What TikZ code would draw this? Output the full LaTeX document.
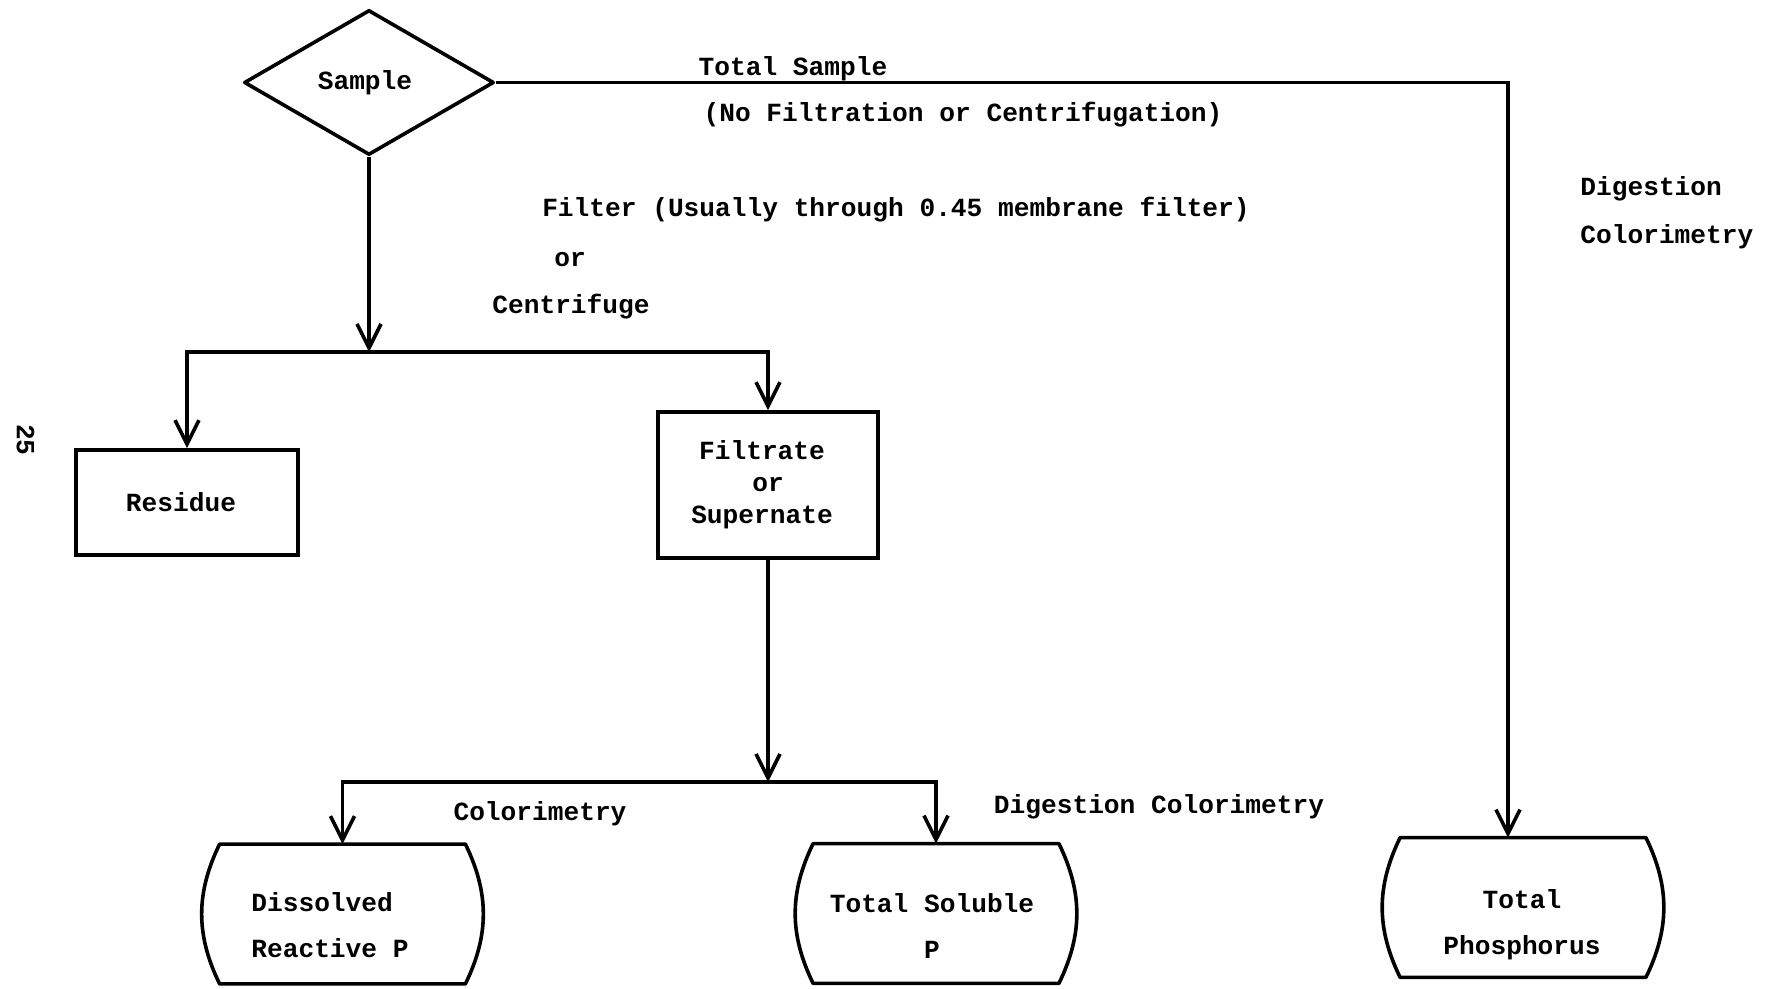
\documentclass[tikz,border=0pt]{standalone}
\usepackage{fontspec}
\setmainfont{Liberation Mono}
\usetikzlibrary{shapes.geometric,arrows.meta}
\begin{document}
\begin{tikzpicture}[x=0.5pt,y=-0.5pt,
  txt/.style={font=\bfseries\fontsize{13.1pt}{16pt}\selectfont, inner sep=0pt},
  lbl/.style={txt, text height=9pt, text depth=2pt},
  twoline/.style={txt, font=\bfseries\fontsize{13.1pt}{23pt}\selectfont},
  ln/.style={line width=1.8pt},
  arr/.style={ln, -{Straight Barb[length=12pt,width=12pt,line width=1.8pt]}},
  boxn/.style={txt, draw, line width=1.8pt, rectangle, align=center},
  barrel/.style={inner sep=0pt, minimum width=122.5pt, minimum height=69.5pt}]
\useasboundingbox (0,0) rectangle (1770,989);

% nodes
\node[txt, draw, line width=1.8pt, line join=round, diamond, minimum width=125pt, minimum height=72.5pt] (samp) at (369,82.5) {Sample\hspace*{4pt}};
\node[boxn, minimum width=111pt, minimum height=52.5pt] (res) at (187,502.5) {Residue\hspace*{6pt}};
\node[boxn, minimum width=110pt, minimum height=73pt] (filt) at (768,485) {Filtrate\hspace*{6pt}\\or\hspace*{6pt}\\Supernate\hspace*{6pt}};

\node[barrel] (dis) at (342.5,914) {};
\node[barrel] (sol) at (936,913.5) {};
\node[barrel] (tp) at (1523,907.5) {};
\node[twoline, align=left] (dist) at (330,925) {Dissolved\\Reactive P};
\node[twoline, align=center] (solt) at (932,926) {Total Soluble\\P};
\node[twoline, align=center] (tpt) at (1522,925) {Total\\Phosphorus};

\foreach \n in {dis,sol,tp}
  \draw[ln, line join=round] (\n.north west) -- (\n.north east) to[bend left=26] (\n.south east) -- (\n.south west) to[bend left=26] (\n.north west) -- cycle;

% labels
\node[lbl] (l1) at (793,69) {Total Sample};
\node[lbl] (l2) at (963,115) {(No Filtration or Centrifugation)};
\node[lbl] (l3) at (896,210) {Filter (Usually through 0.45 membrane filter)};
\node[lbl] (l4) at (570,260) {or};
\node[lbl] (l5) at (571,307) {Centrifuge};
\node[lbl, anchor=west] (l6) at (1580,189) {Digestion};
\node[lbl, anchor=west] (l7) at (1580,237) {Colorimetry};
\node[lbl] (l8) at (540,813) {Colorimetry};
\node[lbl] (l9) at (1159,806) {Digestion Colorimetry};
\node[lbl, rotate=-90] (pg) at (24,440) {25};

% connectors
\coordinate (j1) at (369,352);
\coordinate (j2) at (768,782);
\coordinate (c1) at (1508,82.5);
\draw[arr] (samp.south) -- (j1);
\draw[arr] (j1) -| (res.north);
\draw[arr] (j1) -| (filt.north);
\draw[arr] (filt.south) -- (j2);
\draw[arr] (j2) -| (dis.north);
\draw[arr] (j2) -| (sol.north);
\draw[arr] (samp.east) -- (c1) -- (c1 |- tp.north);
\end{tikzpicture}
\end{document}
